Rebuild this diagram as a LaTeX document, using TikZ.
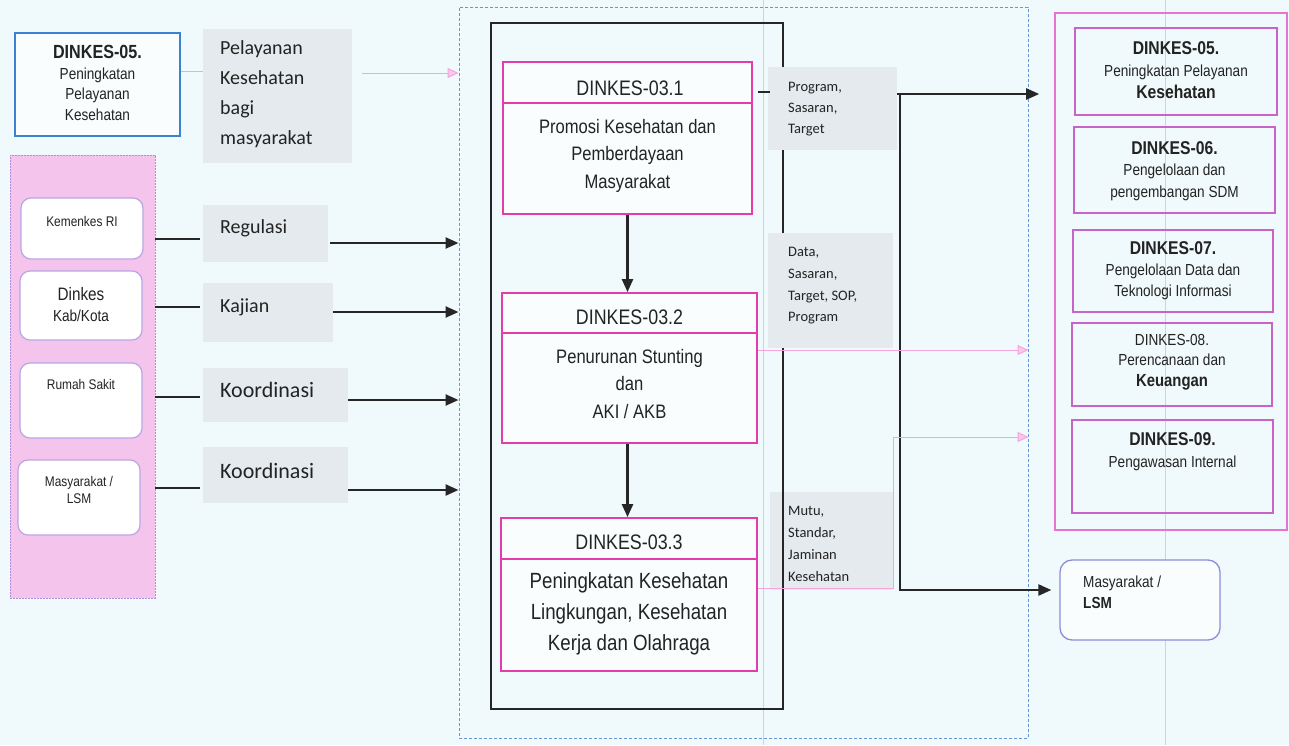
\documentclass[tikz,border=0pt]{standalone}
\usepackage{fontspec}
\setmainfont{Liberation Sans}
\newfontfamily\narrowfont{Liberation Sans}[FakeStretch=0.85]
\newfontfamily\calfont{Carlito}
\usetikzlibrary{arrows.meta,calc}

\definecolor{bgc}{RGB}{240,249,251}
\definecolor{lblgrey}{RGB}{228,234,238}
\definecolor{colpink}{RGB}{245,196,236}
\definecolor{colborder}{RGB}{175,140,220}
\definecolor{boxpink}{RGB}{228,60,170}
\definecolor{innerpink}{RGB}{200,100,200}
\definecolor{outerpink}{RGB}{232,115,210}
\definecolor{bluebox}{RGB}{60,130,210}
\definecolor{bluedash}{RGB}{100,150,215}
\definecolor{lavender}{RGB}{185,165,230}
\definecolor{lsmblue}{RGB}{140,140,220}
\definecolor{pinkline}{RGB}{245,165,220}
\definecolor{pinkhead}{RGB}{250,200,235}
\definecolor{txt}{RGB}{35,35,35}
\definecolor{scanline}{RGB}{205,212,222}

\tikzset{
  blk/.style={line width=2.4pt, draw=black!85},
  arr/.style={blk, -{Triangle[length=13pt,width=11pt]}},
  pinkthin/.style={line width=1pt, draw=pinkline},
  pinkarr/.style={pinkthin, -{Triangle[length=11pt,width=10pt,fill=pinkhead]}},
  lbl/.style={fill=lblgrey, draw=none, inner sep=0pt},
  colbox/.style={fill=white, draw=lavender, line width=1.2pt, rounded corners=10pt, inner sep=0pt},
  pbox/.style={draw=boxpink, line width=1.8pt, inner sep=0pt},
  rbox/.style={draw=innerpink, line width=1.3pt, inner sep=0pt},
  txtn/.style={text=txt, inner sep=0pt, align=center},
  lbltxt/.style={text=txt, inner sep=0pt, align=left, anchor=west},
}
\newcommand\rtitle[1]{{\bfseries\fontsize{18.5}{21}\selectfont #1}}

\begin{document}
\begin{tikzpicture}[x=1pt,y=-1pt]
\fill[bgc] (0,0) rectangle (1289,745);
\useasboundingbox (0,0) rectangle (1289,745);

% faint page lines
\draw[scanline, line width=0.8pt] (763,0) -- (763,745);
\draw[scanline, line width=0.8pt] (1165,0) -- (1165,745);

% outer dashed frame of the process
\node[draw=bluedash, line width=1pt, dash pattern=on 3pt off 2pt, minimum width=569pt, minimum height=731pt, inner sep=0pt] (dash) at (743.5,372.5) {};

% ---------- left side ----------
\node[draw=bluebox, line width=2pt, fill=white!60!bgc, minimum width=165pt, minimum height=103pt, inner sep=0pt] (bl05) at (97.5,84.5) {};
\node[txtn, font=\narrowfont\fontsize{16}{20.5}\selectfont] (bl05t) at (97.5,83)
  {{\bfseries\fontsize{19}{20.5}\selectfont DINKES-05.}\\Peningkatan\\Pelayanan\\Kesehatan};

\node[lbl, minimum width=149pt, minimum height=134pt] (pel) at (277.5,96) {};
\node[lbltxt, font=\calfont\fontsize{20}{30}\selectfont] (pelt) at (220,94)
  {Pelayanan\\Kesehatan\\bagi\\masyarakat};

\node[fill=colpink, draw=colborder, line width=0.8pt, dash pattern=on 2pt off 1pt, minimum width=145pt, minimum height=443pt, inner sep=0pt] (col) at (82.5,376.5) {};
\node[colbox, minimum width=122pt, minimum height=61pt] (kem) at (82,228.5) {};
\node[colbox, minimum width=122pt, minimum height=69pt] (dkk) at (81,305.5) {};
\node[colbox, minimum width=122pt, minimum height=75pt] (rs) at (81,400.5) {};
\node[colbox, minimum width=122pt, minimum height=75pt] (msy) at (79,497.5) {};
\node[txtn, font=\narrowfont\fontsize{14}{16}\selectfont] (kemt) at (82,221) {Kemenkes RI};
\node[txtn, font=\narrowfont\fontsize{18}{21}\selectfont] (dkkt1) at (81,294) {Dinkes};
\node[txtn, font=\narrowfont\fontsize{16}{19}\selectfont] (dkkt2) at (81,316) {Kab/Kota};
\node[txtn, font=\narrowfont\fontsize{14}{16}\selectfont] (rst) at (81,384) {Rumah Sakit};
\node[txtn, font=\narrowfont\fontsize{14}{16.5}\selectfont] (msyt) at (79,490) {Masyarakat /\\LSM};

\node[lbl, minimum width=125pt, minimum height=57pt] (reg) at (265.5,233.5) {};
\node[lbl, minimum width=130pt, minimum height=59pt] (kaj) at (268,312.5) {};
\node[lbl, minimum width=145pt, minimum height=54pt] (ko1) at (275.5,395) {};
\node[lbl, minimum width=145pt, minimum height=56pt] (ko2) at (275.5,475) {};
\node[lbltxt, font=\calfont\fontsize{20}{24}\selectfont] (regt) at (220,228) {Regulasi};
\node[lbltxt, font=\calfont\fontsize{20}{24}\selectfont] (kajt) at (220,307) {Kajian};
\node[lbltxt, font=\calfont\fontsize{22}{26}\selectfont] (ko1t) at (220,390) {Koordinasi};
\node[lbltxt, font=\calfont\fontsize{22}{26}\selectfont] (ko2t) at (220,471) {Koordinasi};

\draw[blk] (col.east |- 0,239) -- ($(reg.west |- 0,239)+(-3,0)$);
\draw[blk] (col.east |- 0,307) -- ($(kaj.west |- 0,307)+(-3,0)$);
\draw[blk] (col.east |- 0,397) -- ($(ko1.west |- 0,397)+(-3,0)$);
\draw[blk] (col.east |- 0,488) -- ($(ko2.west |- 0,488)+(-3,0)$);
\draw[arr] ($(reg.east |- 0,243)+(2,0)$) -- (dash.west |- 0,243);
\draw[arr] (kaj.east |- 0,312) -- (dash.west |- 0,312);
\draw[arr] (ko1.east |- 0,400) -- (dash.west |- 0,400);
\draw[arr] (ko2.east |- 0,490) -- (dash.west |- 0,490);

\draw[pinkthin] (bl05.east |- 0,71) -- (pel.west |- 0,71);
\draw[pinkarr] ($(pel.east |- 0,73)+(10,0)$) -- (dash.west |- 0,73);

% ---------- central process ----------
\node[lbl, minimum width=123pt, minimum height=98pt] (mutu) at (831.5,541) {};
\node[lbltxt, font=\calfont\fontsize{14.5}{22}\selectfont] (mutut) at (788,544)
  {Mutu,\\Standar,\\Jaminan\\Kesehatan};

\node[draw=black!85, line width=2.6pt, minimum width=292pt, minimum height=686pt, inner sep=0pt] (frame) at (637,366) {};

\node[lbl, minimum width=129pt, minimum height=83pt] (prog) at (832.5,108.5) {};
\node[lbltxt, font=\calfont\fontsize{14.5}{21}\selectfont] (progt) at (788,109)
  {Program,\\Sasaran,\\Target};
\node[lbl, minimum width=125pt, minimum height=115pt] (data) at (830.5,290.5) {};
\node[lbltxt, font=\calfont\fontsize{14.5}{21.7}\selectfont] (datat) at (788,286)
  {Data,\\Sasaran,\\Target, SOP,\\Program};

\node[pbox, fill=white!60!bgc, minimum width=249pt, minimum height=152pt] (b1) at (627.5,138) {};
\draw[boxpink, line width=1.8pt] (b1.west |- 0,103) -- (b1.east |- 0,103);
\node[txtn, font=\narrowfont\fontsize{21}{24}\selectfont] (b1h) at (630,88) {DINKES-03.1};
\node[txtn, font=\narrowfont\fontsize{19.5}{27.5}\selectfont] (b1t) at (627.5,155.5)
  {Promosi Kesehatan dan\\Pemberdayaan\\Masyarakat};

\node[pbox, fill=white!60!bgc, minimum width=255pt, minimum height=150pt] (b2) at (629.5,368) {};
\draw[boxpink, line width=1.8pt] (b2.west |- 0,333) -- (b2.east |- 0,333);
\node[txtn, font=\narrowfont\fontsize{21}{24}\selectfont] (b2h) at (629.5,317) {DINKES-03.2};
\node[txtn, font=\narrowfont\fontsize{19.5}{27.5}\selectfont] (b2t) at (629.5,384)
  {Penurunan Stunting\\dan\\AKI / AKB};

\node[pbox, fill=white!60!bgc, minimum width=256pt, minimum height=153pt] (b3) at (629,594.5) {};
\draw[boxpink, line width=1.8pt] (b3.west |- 0,559) -- (b3.east |- 0,559);
\node[txtn, font=\narrowfont\fontsize{21}{24}\selectfont] (b3h) at (629,542) {DINKES-03.3};
\node[txtn, font=\narrowfont\fontsize{22}{31}\selectfont] (b3t) at (629,614)
  {Peningkatan Kesehatan\\Lingkungan, Kesehatan\\Kerja dan Olahraga};

\draw[arr] (b1.south) -- (b1.south |- b2.north);
\draw[arr] (b2.south -| b1.south) -- (b1.south |- b3.north);

\coordinate (stub) at (758,92);
\draw[blk] (stub) -- ($(prog.west |- stub)+(2,0)$);

% ---------- outputs ----------
\node[draw=outerpink, line width=1.6pt, minimum width=232pt, minimum height=517pt, inner sep=0pt] (rout) at (1171,271.5) {};
\node[rbox, minimum width=202pt, minimum height=87pt] (r05) at (1176,71.5) {};
\node[rbox, minimum width=201pt, minimum height=86pt] (r06) at (1174.5,170) {};
\node[rbox, minimum width=200pt, minimum height=82pt] (r07) at (1173,271) {};
\node[rbox, minimum width=200pt, minimum height=83pt] (r08) at (1172,364.5) {};
\node[rbox, minimum width=201pt, minimum height=93pt] (r09) at (1172.5,466.5) {};
\node[txtn, font=\narrowfont\fontsize{16}{22}\selectfont] (r05t) at (1176,70)
  {\rtitle{DINKES-05.}\\Peningkatan Pelayanan\\\rtitle{Kesehatan}};
\node[txtn, font=\narrowfont\fontsize{16}{21.5}\selectfont] (r06t) at (1174.5,171)
  {\rtitle{DINKES-06.}\\Pengelolaan dan\\pengembangan SDM};
\node[txtn, font=\narrowfont\fontsize{16}{21}\selectfont] (r07t) at (1173,271)
  {\rtitle{DINKES-07.}\\Pengelolaan Data dan\\Teknologi Informasi};
\node[txtn, font=\narrowfont\fontsize{16}{20.5}\selectfont] (r08t) at (1172,362)
  {DINKES-08.\\Perencanaan dan\\{\bfseries\fontsize{17.5}{20.5}\selectfont Keuangan}};
\node[txtn, font=\narrowfont\fontsize{16}{22}\selectfont] (r09t) at (1172.5,452)
  {\rtitle{DINKES-09.}\\Pengawasan Internal};

\node[draw=lsmblue, line width=1.3pt, fill=white!60!bgc, rounded corners=12pt, minimum width=160pt, minimum height=80pt, inner sep=0pt] (lsm) at (1140,600) {};
\node[lbltxt, font=\narrowfont\fontsize{16}{21}\selectfont] (lsmt) at (1083,592)
  {Masyarakat /\\{\bfseries LSM}};

% output connectors
\coordinate (jt) at (900,94);
\coordinate (jb) at (900,590);
\draw[arr] (prog.east |- jt) -- ($(rout.west |- jt)+(-15,0)$);
\draw[blk] (jt) -- (jb);
\draw[arr] ($(jb)+(-1.2,0)$) -- ($(lsm.west |- jb)+(-8,0)$);

\draw[pinkarr] (b2.east |- 0,350) -- (dash.east |- 0,350);
\coordinate (pbend) at (893,588);
\draw[pinkarr] (b3.east |- pbend) -- (pbend) -- (pbend |- 0,437) -- (dash.east |- 0,437);
\end{tikzpicture}
\end{document}
